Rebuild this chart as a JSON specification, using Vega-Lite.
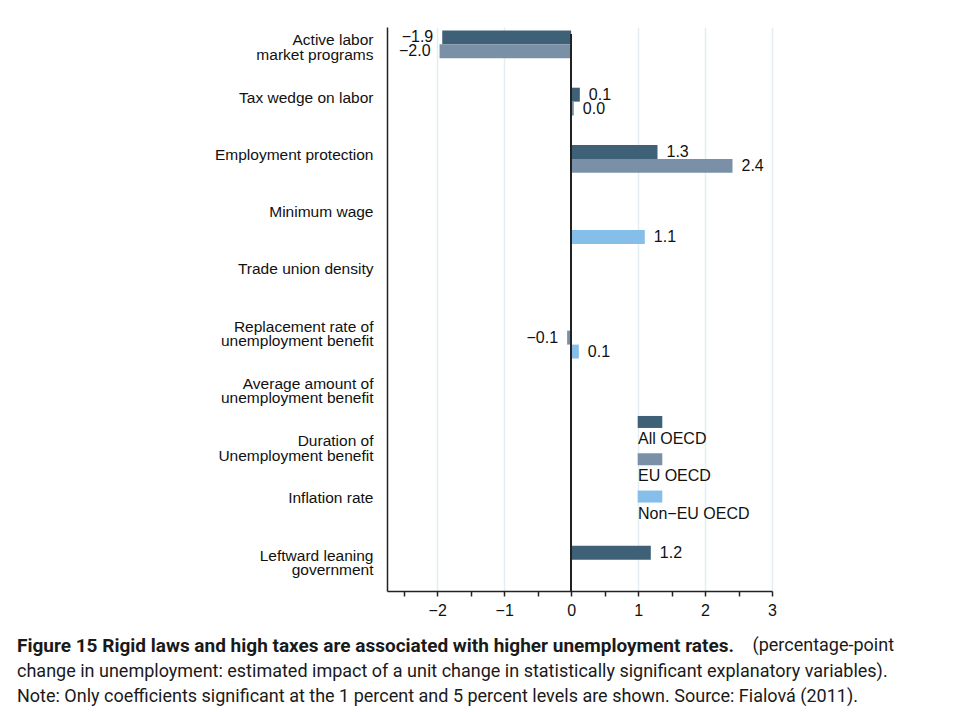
{
  "$schema": "https://vega.github.io/schema/vega-lite/v6.json",
  "autosize": {"type": "none"},
  "padding": {"left": 387, "top": 27, "right": 185, "bottom": 121},
  "width": 385,
  "height": 564,
  "background": "white",
  "config": {
    "view": {"stroke": null},
    "font": "Liberation Sans"
  },
  "title": {
    "text": "Figure 15 Rigid laws and high taxes are associated with higher unemployment rates.",
    "subtitle": [
      "change in unemployment: estimated impact of a unit change in statistically significant explanatory variables).",
      "Note: Only coefficients significant at the 1 percent and 5 percent levels are shown. Source: Fialová (2011)."
    ],
    "orient": "bottom",
    "anchor": "start",
    "frame": "group",
    "dx": -370,
    "offset": -17,
    "font": "Roboto",
    "fontSize": 19,
    "fontWeight": "bold",
    "color": "#1a1a1a",
    "subtitleFont": "Roboto",
    "subtitleFontSize": 18,
    "subtitleColor": "#1a1a1a",
    "subtitleLineHeight": 24.5,
    "subtitlePadding": 7
  },
  "resolve": {"axis": {"x": "independent"}},
  "data": {
    "values": [
      {"variable": "Active labor|market programs", "group": "All OECD", "value": -1.925},
      {"variable": "Active labor|market programs", "group": "EU OECD", "value": -1.965},
      {"variable": "Tax wedge on labor", "group": "All OECD", "value": 0.13},
      {"variable": "Tax wedge on labor", "group": "EU OECD", "value": 0.04},
      {"variable": "Employment protection", "group": "All OECD", "value": 1.29},
      {"variable": "Employment protection", "group": "EU OECD", "value": 2.41},
      {"variable": "Minimum wage", "group": "Non−EU OECD", "value": 1.1},
      {"variable": "Replacement rate of|unemployment benefit", "group": "EU OECD", "value": -0.06},
      {"variable": "Replacement rate of|unemployment benefit", "group": "Non−EU OECD", "value": 0.115},
      {"variable": "Leftward leaning|government", "group": "All OECD", "value": 1.19}
    ]
  },
  "encoding": {
    "y": {
      "field": "variable",
      "type": "nominal",
      "scale": {
        "domain": [
          "Active labor|market programs",
          "Tax wedge on labor",
          "Employment protection",
          "Minimum wage",
          "Trade union density",
          "Replacement rate of|unemployment benefit",
          "Average amount of|unemployment benefit",
          "Duration of|Unemployment benefit",
          "Inflation rate",
          "Leftward leaning|government"
        ],
        "paddingInner": 0.27,
        "paddingOuter": 0.06
      },
      "axis": {
        "title": null,
        "labelExpr": "split(datum.value, '|')",
        "labelFont": "Liberation Sans",
        "labelFontSize": 15.5,
        "labelLineHeight": 14.5,
        "labelColor": "#111",
        "labelPadding": 14,
        "labelOffset": -11,
        "labelLimit": 400,
        "ticks": false,
        "grid": false,
        "domainColor": "#222",
        "domainWidth": 1.5
      }
    },
    "yOffset": {
      "field": "group",
      "type": "nominal",
      "scale": {"domain": ["All OECD", "EU OECD", "Non−EU OECD"], "paddingInner": 0, "paddingOuter": 0}
    }
  },
  "layer": [
    {
      "mark": {"type": "bar"},
      "encoding": {
        "x": {
          "field": "value",
          "type": "quantitative",
          "scale": {"domain": [-2.75, 3], "nice": false, "zero": false},
          "axis": {
            "orient": "bottom",
            "values": [-2.5, -2, -1.5, -1, -0.5, 0, 0.5, 1, 1.5, 2, 2.5, 3],
            "labelExpr": "datum.value % 1 === 0 ? format(datum.value, 'd') : ''",
            "labelOverlap": false,
            "labelFont": "Liberation Sans",
            "labelFontSize": 16,
            "labelColor": "#111",
            "labelPadding": 6,
            "labelFlush": false,
            "tickSize": 5,
            "tickColor": "#222",
            "tickWidth": 1.5,
            "domainColor": "#222",
            "domainWidth": 1.5,
            "grid": false,
            "title": "(percentage-point",
            "titleFont": "Roboto",
            "titleFontSize": 18,
            "titleFontWeight": "normal",
            "titleColor": "#1a1a1a",
            "titleAnchor": "start",
            "titleAlign": "left",
            "titleBaseline": "middle",
            "titleX": 365,
            "titleY": 54
          }
        },
        "color": {
          "field": "group",
          "type": "nominal",
          "scale": {
            "domain": ["All OECD", "EU OECD", "Non−EU OECD"],
            "range": ["#3f6178", "#7a90a7", "#85bee8"]
          },
          "legend": {
            "title": null,
            "orient": "none",
            "legendX": 251,
            "legendY": 400,
            "padding": 0,
            "symbolType": "M-1.025,-1.92L1.025,-1.92L1.025,-0.92L-1.025,-0.92Z",
            "symbolSize": 576,
            "symbolStrokeWidth": 0,
            "symbolOpacity": 1,
            "labelOffset": -24,
            "labelFont": "Liberation Sans",
            "labelFontSize": 16,
            "labelColor": "#111",
            "rowPadding": 5.3,
            "labelLimit": 300
          }
        }
      }
    },
    {
      "transform": [{"filter": "datum.value >= 0"}],
      "mark": {"type": "text", "align": "left", "baseline": "middle", "dx": 9, "fontSize": 16, "font": "Liberation Sans", "color": "#111"},
      "encoding": {
        "x": {
          "field": "value",
          "type": "quantitative",
          "axis": {
            "orient": "bottom",
            "values": [-2, -1, 1, 2, 3],
            "grid": true,
            "gridColor": "#e3edf2",
            "gridWidth": 1.5,
            "labels": false,
            "ticks": false,
            "domain": false,
            "title": null,
            "zindex": 0
          }
        },
        "text": {"field": "value", "type": "quantitative", "format": ".1f"}
      }
    },
    {
      "transform": [{"filter": "datum.value < 0"}],
      "mark": {"type": "text", "align": "right", "baseline": "middle", "dx": -9, "fontSize": 16, "font": "Liberation Sans", "color": "#111"},
      "encoding": {
        "x": {"field": "value", "type": "quantitative", "axis": null},
        "text": {"field": "value", "type": "quantitative", "format": ".1f"}
      }
    },
    {
      "mark": {"type": "rule", "color": "#222", "strokeWidth": 1.2},
      "encoding": {"x": {"datum": 0, "axis": null}, "y": {"value": 0}, "y2": {"value": 564}}
    }
  ]
}
